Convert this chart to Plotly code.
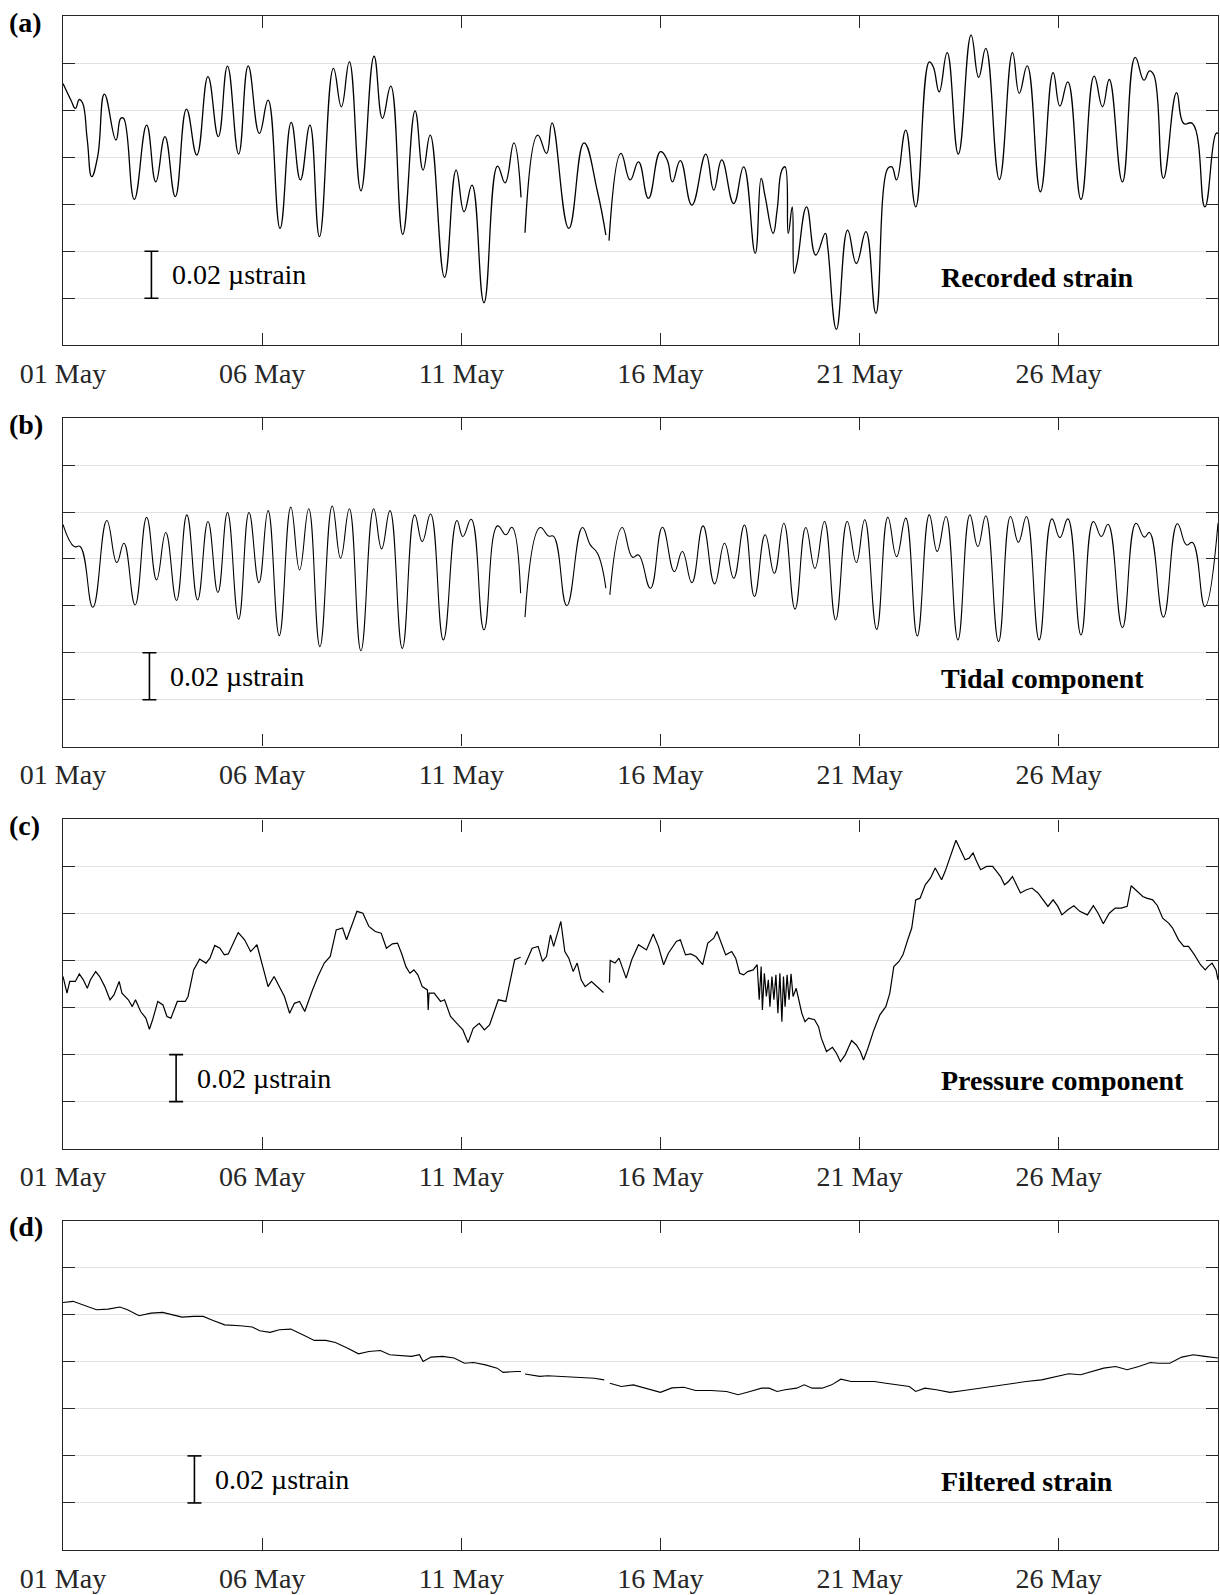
import pandas as pd
import plotly.graph_objects as go

# ---------------- data (time in days since 01 May 00:00, strain in nanostrain, arbitrary offset) ----------------
# (a) Recorded strain – three segments separated by data gaps
a_t1 = [0.0, 0.20, 0.31, 0.41, 0.49, 0.61, 0.72, 0.87, 1.04, 1.33, 1.45, 1.52, 1.79, 2.10, 2.33, 2.56, 2.82, 3.10,
        3.36, 3.64, 3.90, 4.13, 4.41, 4.65, 4.93, 5.15, 5.45, 5.73, 5.96, 6.20, 6.44, 6.79, 6.99, 7.19, 7.48, 7.81,
        8.02, 8.23, 8.53, 8.84, 9.04, 9.22, 9.58, 9.87, 10.07, 10.27, 10.57, 10.91, 11.10, 11.32, 11.50]
a_v1 = [111.3, 104.2, 100.7, 104.5, 103.1, 87.3, 71.7, 80.2, 106.8, 87.3, 96.5, 96.5, 62.0, 93.6, 69.5, 88.7, 63.2,
        100.4, 80.9, 114.2, 88.7, 118.7, 81.3, 118.8, 90.1, 104.2, 49.7, 94.8, 70.3, 93.6, 46.2, 117.7, 101.4, 120.5,
        65.7, 122.9, 96.5, 110.2, 47.2, 99.7, 74.5, 89.4, 28.9, 74.5, 56.8, 68.1, 18.1, 76.2, 69.1, 86.1, 62.9]
a_t2 = [11.60, 11.92, 12.14, 12.28, 12.70, 13.08, 13.42, 13.63]
a_v2 = [47.9, 89.4, 81.6, 94.6, 49.7, 86.1, 65.3, 46.9]
a_t3 = [13.71, 14.01, 14.24, 14.45, 14.70, 15.00, 15.17, 15.30, 15.50, 15.79, 16.14, 16.34, 16.54, 16.84, 17.09,
        17.38, 17.53, 17.63, 17.83, 17.93, 18.05, 18.13, 18.21, 18.31, 18.36, 18.43, 18.67, 18.90, 19.14, 19.20,
        19.42, 19.70, 19.92, 20.16, 20.41, 20.71, 20.81, 20.93, 21.16, 21.41, 21.75, 21.85, 22.00, 22.20, 22.48,
        22.80, 22.99, 23.17, 23.51, 23.84, 24.01, 24.21, 24.54, 24.86, 25.03, 25.23, 25.56, 25.89, 26.10, 26.27,
        26.60, 26.92, 27.14, 27.28, 27.39, 27.63, 27.96, 28.14, 28.36, 28.67, 28.95, 29.0]
a_v3 = [44.5, 81.6, 70.3, 78.0, 62.5, 82.3, 78.8, 69.5, 78.5, 59.6, 81.3, 66.0, 78.8, 60.3, 75.9, 39.1, 71.0, 63.2,
        47.6, 57.5, 74.5, 75.9, 47.6, 58.9, 30.6, 34.8, 58.9, 38.4, 47.6, 41.9, 6.8, 49.0, 34.8, 48.3, 13.6, 75.2,
        75.9, 70.3, 91.5, 58.9, 120.5, 118.4, 107.8, 124.4, 81.3, 131.9, 113.9, 126.2, 70.5, 124.4, 107.1, 118.8,
        65.3, 115.9, 101.7, 112.0, 62.0, 114.4, 101.4, 113.0, 69.5, 122.4, 112.7, 116.7, 114.9, 71.0, 107.4, 94.3,
        94.3, 58.9, 90.1, 90.1]

# (b) Tidal component
b_t1 = [0.0, 0.28, 0.43, 0.75, 1.10, 1.35, 1.53, 1.81, 2.10, 2.35, 2.58, 2.85, 3.11, 3.38, 3.64, 3.89, 4.13, 4.41,
        4.67, 4.92, 5.15, 5.43, 5.72, 5.94, 6.17, 6.45, 6.76, 6.97, 7.19, 7.48, 7.80, 8.00, 8.21, 8.52, 8.83, 9.02,
        9.23, 9.55, 9.89, 10.04, 10.25, 10.57, 10.91, 11.12, 11.27, 11.49]
b_v1 = [94.7, 85.3, 85.3, 59.4, 96.4, 78.5, 86.7, 60.4, 97.8, 71.1, 91.3, 62.3, 98.8, 62.5, 96.0, 65.7, 99.8, 54.3,
        99.8, 69.9, 100.6, 47.3, 102.1, 75.3, 101.4, 42.6, 102.6, 80.3, 101.4, 40.9, 101.4, 84.3, 100.6, 41.9, 98.8,
        87.4, 99.2, 45.5, 96.4, 89.6, 96.9, 49.8, 94.1, 90.3, 93.5, 65.4]
b_t2 = [11.60, 11.98, 12.19, 12.32, 12.65, 13.04, 13.24, 13.42, 13.63]
b_v2 = [55.2, 93.4, 89.8, 89.6, 60.1, 93.4, 86.0, 82.4, 67.5]
b_t3 = [13.73, 14.04, 14.30, 14.45, 14.75, 15.05, 15.35, 15.55, 15.79, 16.07, 16.36, 16.61, 16.84, 17.11, 17.36,
        17.63, 17.86, 18.10, 18.38, 18.65, 18.88, 19.12, 19.40, 19.69, 19.92, 20.13, 20.43, 20.71, 20.93, 21.16,
        21.45, 21.75, 21.95, 22.17, 22.47, 22.77, 22.97, 23.17, 23.49, 23.79, 23.99, 24.19, 24.51, 24.83, 25.03,
        25.23, 25.56, 25.87, 26.07, 26.24, 26.60, 26.94, 27.15, 27.28, 27.63, 27.98, 28.21, 28.36, 28.67, 29.0]
b_v3 = [64.7, 93.4, 80.7, 81.7, 67.5, 93.5, 74.6, 83.2, 69.9, 94.1, 69.4, 86.7, 71.8, 94.5, 64.0, 90.3, 73.9, 95.2,
        58.6, 93.4, 76.0, 96.0, 54.0, 96.0, 78.5, 96.7, 50.0, 97.8, 81.0, 97.4, 47.2, 98.8, 83.2, 98.1, 45.5, 98.8,
        85.3, 98.4, 44.8, 98.1, 87.1, 98.1, 45.5, 97.1, 89.1, 97.1, 47.6, 96.0, 89.6, 94.8, 50.7, 95.2, 89.3, 91.3,
        55.2, 95.0, 86.0, 87.0, 59.7, 95.2]

# (c) Pressure component
c_t1 = [0.0, 0.10, 0.17, 0.31, 0.41, 0.51, 0.61, 0.69, 0.82, 0.92, 1.05, 1.18, 1.28, 1.41, 1.48, 1.64, 1.74, 1.82,
        1.95, 2.08, 2.17, 2.25, 2.38, 2.51, 2.61, 2.71, 2.87, 3.07, 3.14, 3.28, 3.43, 3.59, 3.69, 3.81, 3.94, 4.05,
        4.15, 4.27, 4.40, 4.56, 4.71, 4.87, 5.02, 5.15, 5.30, 5.43, 5.56, 5.69, 5.81, 5.94, 6.07, 6.25, 6.40, 6.56,
        6.71, 6.86, 7.02, 7.12, 7.24, 7.38, 7.53, 7.68, 7.84, 7.99, 8.12, 8.27, 8.40, 8.50, 8.61, 8.71, 8.81, 8.91,
        9.02, 9.15, 9.17, 9.19, 9.32, 9.48, 9.58, 9.73, 9.89, 10.04, 10.17, 10.30, 10.45, 10.58, 10.71, 10.83, 10.93,
        11.12, 11.22, 11.34, 11.49]
c_v1 = [73.2, 66.1, 71.1, 71.1, 74.3, 71.8, 68.2, 71.8, 75.3, 73.2, 68.9, 63.3, 65.4, 71.1, 66.1, 63.3, 60.4, 63.3,
        58.3, 55.5, 50.8, 54.8, 62.6, 61.1, 56.2, 55.5, 62.6, 62.6, 64.7, 76.0, 80.6, 78.9, 81.0, 86.4, 85.2, 82.4,
        82.8, 87.4, 91.9, 88.8, 83.8, 86.7, 77.4, 68.9, 73.2, 68.9, 64.7, 57.6, 61.8, 62.6, 58.3, 66.8, 73.2, 78.9,
        81.7, 93.0, 93.8, 88.8, 94.5, 100.9, 100.1, 94.5, 92.3, 91.6, 85.2, 87.1, 87.4, 83.1, 77.4, 74.6, 76.0, 73.9,
        68.9, 67.5, 59.0, 66.1, 66.1, 62.6, 63.3, 56.2, 53.3, 50.5, 45.1, 51.2, 53.3, 50.5, 52.6, 59.0, 63.3, 62.6,
        71.1, 80.3, 81.4]
c_t2 = [11.60, 11.78, 11.93, 12.04, 12.14, 12.24, 12.32, 12.41, 12.50, 12.60, 12.70, 12.81, 12.91, 13.01, 13.11,
        13.27, 13.42, 13.57]
c_v2 = [78.2, 85.2, 86.0, 79.6, 81.7, 90.9, 86.0, 91.6, 96.6, 83.8, 81.0, 75.3, 78.9, 71.8, 68.9, 71.1, 68.9, 66.4]
c_t3 = [13.72, 13.74, 13.86, 13.96, 14.14, 14.28, 14.45, 14.65, 14.82, 14.95, 15.08, 15.20, 15.40, 15.50, 15.63,
        15.76, 15.89, 16.06, 16.19, 16.34, 16.42, 16.54, 16.64, 16.79, 16.89, 16.99, 17.09, 17.19, 17.33, 17.43,
        17.48, 17.53, 17.56, 17.61, 17.66, 17.71, 17.75, 17.80, 17.85, 17.90, 17.95, 18.00, 18.05, 18.09, 18.13,
        18.18, 18.23, 18.28, 18.33, 18.41, 18.48, 18.55, 18.63, 18.72, 18.87, 18.97, 19.04, 19.17, 19.32, 19.42,
        19.52, 19.64, 19.80, 19.92, 20.02, 20.10, 20.21, 20.36, 20.51, 20.66, 20.76, 20.86, 20.99, 21.09, 21.21,
        21.31, 21.41, 21.52, 21.65, 21.78, 21.90, 21.98, 22.06, 22.15, 22.22, 22.30, 22.42, 22.55, 22.65, 22.75,
        22.85, 22.94, 23.04, 23.19, 23.34, 23.44, 23.54, 23.64, 23.74, 23.84, 23.94, 24.04, 24.19, 24.33, 24.48,
        24.63, 24.73, 24.86, 24.98, 25.08, 25.23, 25.38, 25.53, 25.72, 25.87, 25.99, 26.12, 26.27, 26.42, 26.57,
        26.72, 26.82, 26.97, 27.11, 27.21, 27.36, 27.48, 27.61, 27.76, 27.86, 28.01, 28.14, 28.26, 28.41, 28.56,
        28.68, 28.75, 28.85, 28.95, 29.0]
c_v3 = [70.6, 80.0, 78.9, 81.0, 72.5, 80.3, 86.7, 84.5, 91.3, 86.0, 78.2, 83.1, 88.1, 88.8, 82.4, 82.8, 81.7, 78.2,
        87.4, 89.5, 92.3, 86.7, 82.4, 83.8, 81.0, 74.6, 73.9, 75.3, 76.0, 78.2, 63.3, 77.4, 59.0, 74.6, 64.7, 71.8,
        60.4, 73.2, 63.3, 73.9, 57.6, 74.6, 54.0, 73.2, 60.4, 73.9, 63.3, 74.3, 64.7, 68.2, 63.3, 57.6, 54.0, 55.5,
        54.8, 51.9, 47.0, 41.3, 43.1, 40.6, 37.0, 39.9, 46.0, 44.1, 41.3, 37.7, 42.7, 50.5, 56.9, 60.4, 66.1, 77.4,
        79.6, 82.4, 88.8, 93.8, 105.8, 106.5, 112.2, 115.0, 119.3, 116.9, 114.3, 117.9, 121.4, 125.7, 131.1, 126.4,
        122.8, 123.5, 125.7, 122.1, 118.6, 120.0, 120.0, 117.9, 115.7, 112.2, 113.6, 115.7, 112.2, 108.7, 110.1,
        110.8, 108.7, 105.1, 103.0, 105.8, 103.0, 99.4, 101.6, 103.3, 100.9, 99.4, 103.3, 100.1, 95.6, 100.1, 102.3,
        102.3, 103.0, 111.8, 109.4, 107.2, 106.5, 105.8, 103.3, 98.0, 95.9, 93.8, 88.8, 86.0, 86.0, 82.4, 78.2, 76.0,
        77.4, 78.9, 76.0, 71.8]

# (d) Filtered strain
d_t1 = [0.0, 0.25, 0.84, 1.13, 1.43, 1.62, 1.91, 2.21, 2.50, 2.73, 2.99, 3.28, 3.52, 3.77, 4.06, 4.45, 4.75, 4.94,
        5.20, 5.43, 5.72, 6.02, 6.31, 6.60, 6.84, 7.15, 7.42, 7.68, 7.97, 8.20, 8.46, 8.75, 8.95, 9.04, 9.24, 9.53,
        9.82, 10.08, 10.31, 10.61, 10.90, 11.05, 11.39, 11.50]
d_v1 = [105.2, 105.7, 102.1, 102.4, 103.3, 102.1, 99.6, 100.7, 101.0, 100.0, 99.0, 99.3, 99.3, 97.6, 95.7, 95.3, 94.8,
        93.2, 92.5, 93.6, 93.9, 91.5, 89.1, 89.1, 88.2, 85.8, 83.4, 84.4, 84.8, 83.0, 82.6, 82.3, 83.0, 80.1, 82.0,
        82.3, 81.6, 79.4, 79.7, 78.7, 77.3, 75.5, 75.9, 75.9]
d_t2 = [11.60, 11.97, 12.17, 12.46, 12.75, 13.05, 13.34, 13.59]
d_v2 = [74.8, 73.8, 74.1, 73.8, 73.8, 73.5, 73.0, 72.3]
d_t3 = [13.73, 14.02, 14.32, 14.71, 15.0, 15.29, 15.59, 15.88, 16.27, 16.66, 16.95, 17.25, 17.54, 17.73, 17.93,
        18.13, 18.42, 18.61, 18.81, 19.06, 19.30, 19.53, 19.79, 20.08, 20.37, 20.66, 20.96, 21.25, 21.41, 21.64,
        21.93, 22.27, 22.62, 23.01, 23.40, 23.79, 24.18, 24.57, 24.96, 25.25, 25.55, 25.84, 26.13, 26.43, 26.72,
        27.01, 27.30, 27.50, 27.79, 28.09, 28.38, 28.67, 29.0]
d_v3 = [70.9, 69.5, 70.2, 68.4, 67.0, 68.9, 69.2, 67.8, 67.8, 67.4, 66.0, 67.4, 68.8, 68.8, 67.4, 68.1, 68.8, 70.2,
        68.8, 68.8, 70.2, 72.6, 71.6, 71.6, 71.6, 70.9, 70.2, 69.5, 67.4, 68.8, 68.1, 67.0, 67.8, 68.8, 69.5, 70.6,
        71.6, 72.3, 73.8, 74.9, 74.5, 75.9, 77.3, 78.0, 76.6, 78.0, 79.7, 79.4, 79.4, 82.0, 83.0, 82.3, 81.6]

panel_letters = ["(a)", "(b)", "(c)", "(d)"]
panel_titles = ["Recorded strain", "Tidal component", "Pressure component", "Filtered strain"]
scale_text = "0.02 \u00b5strain"
scale_bar_day = [2.22, 2.17, 2.84, 3.30]   # where the 0.02 µstrain bar sits
tick_days = [0, 5, 10, 15, 20, 25]
grid_values = [20, 40, 60, 80, 100, 120]

# ---------------- figure ----------------
BASE = pd.Timestamp("2016-05-01")


def to_dates(ts):
    return [None if t is None else BASE + pd.Timedelta(days=t) for t in ts]


def joined(*segs):
    out = []
    for i, s in enumerate(segs):
        if i:
            out.append(None)
        out.extend(s)
    return out


series = [
    (joined(a_t1, a_t2, a_t3), joined(a_v1, a_v2, a_v3), "spline", 1.3),
    (joined(b_t1, b_t2, b_t3), joined(b_v1, b_v2, b_v3), "spline", 1.1),
    (joined(c_t1, c_t2, c_t3), joined(c_v1, c_v2, c_v3), "linear", 1.2),
    (joined(d_t1, d_t2, d_t3), joined(d_v1, d_v2, d_v3), "linear", 1.1),
]

FONT = "Liberation Serif"
AX = "#262626"
domains = [(0.7853, 1.0), (0.5237, 0.7378), (0.2616, 0.4763), (0.0, 0.2147)]

fig = go.Figure()
layout = dict(
    width=1220, height=1595,
    margin=dict(l=63, r=2, t=16, b=45),
    paper_bgcolor="white", plot_bgcolor="white",
    showlegend=False,
    font=dict(family=FONT, size=28, color="black"),
)
annotations = []
shapes = []
for i, (ts, vs, shape, lw) in enumerate(series):
    n = i + 1
    xa = "x" if n == 1 else f"x{n}"
    ya = "y" if n == 1 else f"y{n}"
    line = dict(color="black", width=lw, shape=shape)
    if shape == "spline":
        line["smoothing"] = 1.3
    fig.add_trace(go.Scatter(
        x=to_dates(ts), y=vs, mode="lines", xaxis=xa, yaxis=ya,
        line=line, connectgaps=False, hoverinfo="skip",
    ))
    layout["xaxis" if n == 1 else f"xaxis{n}"] = dict(
        type="date", domain=[0, 1], anchor=ya,
        range=[BASE, BASE + pd.Timedelta(days=29)],
        tickvals=[BASE + pd.Timedelta(days=d) for d in tick_days],
        tickformat="%d %b",
        ticks="inside", ticklen=12, tickwidth=1.3, tickcolor=AX,
        showline=True, linecolor=AX, linewidth=1.3, mirror="ticks",
        showgrid=False, zeroline=False,
        tickfont=dict(family=FONT, size=28, color=AX),
        ticklabelstandoff=3,
    )
    layout["yaxis" if n == 1 else f"yaxis{n}"] = dict(
        domain=list(domains[i]), anchor=xa, range=[0, 140],
        tickvals=grid_values, showticklabels=False,
        ticks="inside", ticklen=12, tickwidth=1.3, tickcolor=AX,
        showline=True, linecolor=AX, linewidth=1.3, mirror="ticks",
        showgrid=True, gridcolor="#e2e2e2", gridwidth=1.2, zeroline=False,
    )
    bar_x = BASE + pd.Timedelta(days=scale_bar_day[i])
    bar_xs = bar_x.strftime("%Y-%m-%d %H:%M:%S")
    shapes.append(dict(type="line", xref=xa, yref=ya, x0=bar_xs, x1=bar_xs, y0=20, y1=40,
                       line=dict(color="black", width=1.6)))
    for yy in (20, 40):
        shapes.append(dict(type="line", xref=xa, yref=ya, xsizemode="pixel", xanchor=bar_xs,
                           x0=-7, x1=7, y0=yy, y1=yy, line=dict(color="black", width=1.6)))
    annotations.append(dict(xref=xa, yref=ya, x=bar_xs, y=30, xanchor="left", yanchor="middle",
                            xshift=19, text=scale_text, showarrow=False,
                            font=dict(family=FONT, size=28, color="black")))
    annotations.append(dict(xref=xa, yref=ya, x=(BASE + pd.Timedelta(days=22.0)).strftime("%Y-%m-%d %H:%M:%S"),
                            y=29, xanchor="left", yanchor="middle", text=f"<b>{panel_titles[i]}</b>",
                            showarrow=False, font=dict(family=FONT, size=28, color="black")))
    annotations.append(dict(xref=f"{xa} domain", yref=f"{ya} domain", x=-0.0485, y=1, xanchor="left",
                            yanchor="middle", yshift=-6, text=f"<b>{panel_letters[i]}</b>", showarrow=False,
                            font=dict(family=FONT, size=28, color="black")))

layout["annotations"] = annotations
layout["shapes"] = shapes
fig.update_layout(**layout)
fig.write_html("out.html", config={"displayModeBar": False},
               post_script="document.body.style.margin='0px';")
